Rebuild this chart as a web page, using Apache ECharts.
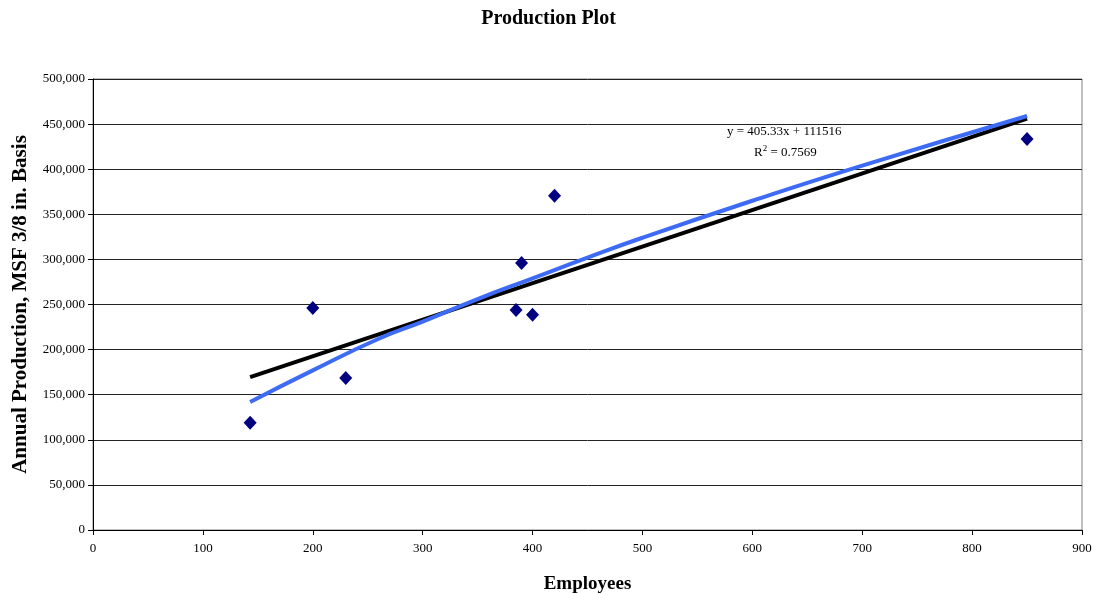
<!DOCTYPE html>
<html>
<head>
<meta charset="utf-8">
<script src="https://cdn.jsdelivr.net/npm/echarts@6/dist/echarts.min.js"></script>
<style>html,body{margin:0;padding:0;background:#fff}#c{width:1097px;height:594px}</style>
</head>
<body>
<div id="c"></div>
<script>
const employees = [143, 200, 230, 385, 400, 390, 420, 850];
const production = [119000, 246000, 168500, 244000, 238500, 296000, 370500, 433500];
const linearTrend = [[143, 169500], [850, 456000]];
const powerTrend = [[143, 142000], [200, 177000], [260, 212000], [300, 231000], [350, 256000], [400, 279000], [450, 302000], [500, 324000], [600, 365000], [700, 404000], [850, 459000]];
const trendEquation = 'y = 405.33x + 111516';
const trendR2 = '0.7569';
const titleText = 'Production Plot';
const xName = 'Employees';
const yName = 'Annual Production, MSF 3/8 in. Basis';

const serif = '"Liberation Serif","DejaVu Serif",serif';
const chart = echarts.init(document.getElementById('c'));
chart.setOption({
  animation: false,
  backgroundColor: '#fff',
  title: {
    text: titleText, left: 'center', top: 4,
    textStyle: {fontFamily: serif, fontWeight: 'bold', fontSize: 20, color: '#000'}
  },
  grid: {left: 93, right: 15, top: 79, bottom: 64, outerBoundsMode: 'none', containLabel: false,
    show: true, borderColor: '#808080', borderWidth: 1, backgroundColor: '#fff'},
  xAxis: {
    type: 'value', min: 0, max: 900, interval: 100,
    name: xName, nameLocation: 'middle', nameGap: 45,
    nameTextStyle: {fontFamily: serif, fontWeight: 'bold', fontSize: 19, color: '#000'},
    axisLine: {show: true, onZero: false, lineStyle: {color: '#000', width: 1}},
    axisTick: {show: true, length: 5, lineStyle: {color: '#000'}},
    axisLabel: {fontFamily: serif, fontSize: 13, color: '#000', margin: 12},
    splitLine: {show: false}
  },
  yAxis: {
    type: 'value', min: 0, max: 500000, interval: 50000,
    name: yName, nameLocation: 'middle', nameGap: 62, nameRotate: 90,
    nameTextStyle: {fontFamily: serif, fontWeight: 'bold', fontSize: 21, color: '#000'},
    axisLine: {show: true, onZero: false, lineStyle: {color: '#000', width: 1}},
    axisTick: {show: true, length: 5, lineStyle: {color: '#000'}},
    axisLabel: {fontFamily: serif, fontSize: 13, color: '#000', margin: 8,
      formatter: v => v.toLocaleString('en-US')},
    splitLine: {show: true, lineStyle: {color: '#222', width: 1}}
  },
  series: [
    {type: 'line', data: linearTrend, symbol: 'none', lineStyle: {color: '#000', width: 4}, z: 3},
    {type: 'line', data: powerTrend, smooth: true, symbol: 'none', lineStyle: {color: '#3D6BF5', width: 4}, z: 4},
    {type: 'scatter', data: employees.map((x, i) => [x, production[i]]), symbol: 'diamond', symbolSize: [13, 14],
      itemStyle: {color: '#000080', opacity: 1}, z: 5}
  ],
  graphic: [
    {type: 'text', left: 727, top: 125, style: {text: trendEquation, font: '13px ' + serif, fill: '#000'}},
    {type: 'text', left: 754, top: 144, style: {
      text: '{a|R}{s|2}{a| = ' + trendR2 + '}',
      rich: {a: {fontFamily: serif, fontSize: 13, color: '#000', verticalAlign: 'bottom'},
             s: {fontFamily: serif, fontSize: 9, color: '#000', verticalAlign: 'top', padding: [0, 0, 6, 0]}}
    }}
  ]
});
</script>
</body>
</html>
